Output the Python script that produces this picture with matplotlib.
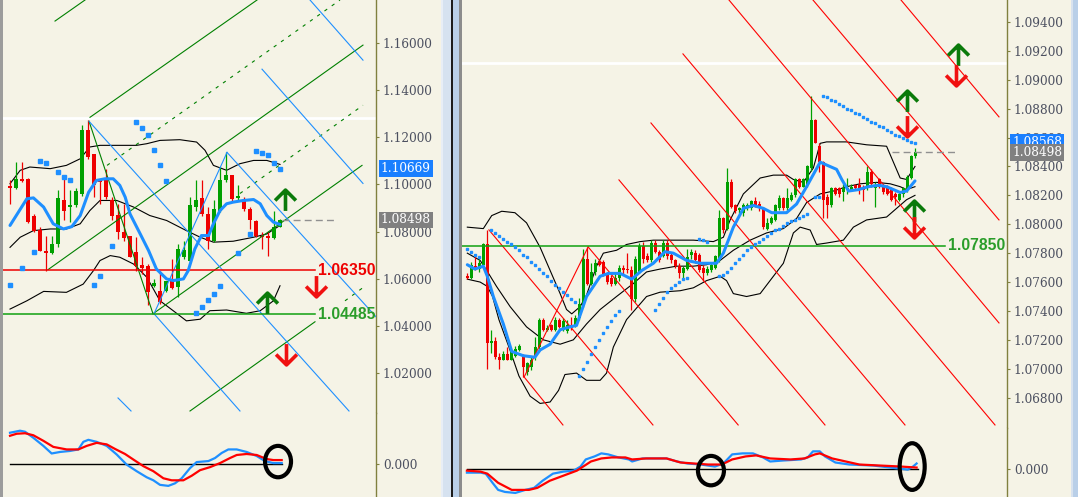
import numpy as np
import matplotlib
matplotlib.use("Agg")
import matplotlib.pyplot as plt
from matplotlib.path import Path
from matplotlib.patches import Ellipse, Rectangle
from matplotlib import transforms

# ---------------- left chart : candles ----------------
left_open = [1.0992, 1.0986, 1.1024, 1.1024, 1.0864, 1.0807, 1.0716, 1.0708, 1.0748, 1.0936,
             1.0904, 1.0911, 1.0960, 1.1233, 1.1128, 1.1017, 1.1017, 1.0932, 1.0871, 1.0797,
             1.0780, 1.0715, 1.0660, 1.0653, 1.0569, 1.0549, 1.0549, 1.0592, 1.0563, 1.0691,
             1.0677, 1.0904, 1.0943, 1.0875, 1.0762, 1.0889, 1.1017, 1.1038, 1.0943, 1.0932,
             1.0896, 1.0844, 1.0783, 1.0783, 1.0773, 1.0821]
left_high = [1.1017, 1.1095, 1.1095, 1.1026, 1.0875, 1.0818, 1.0783, 1.0783, 1.0975, 1.1038,
             1.0975, 1.0986, 1.1251, 1.1272, 1.1128, 1.1024, 1.1067, 1.0946, 1.0918, 1.0918,
             1.0783, 1.0776, 1.0691, 1.0662, 1.0599, 1.0634, 1.0592, 1.0684, 1.0748, 1.0762,
             1.0946, 1.1017, 1.1017, 1.0904, 1.0932, 1.1074, 1.1138, 1.1038, 1.0996, 1.0946,
             1.0904, 1.0847, 1.0797, 1.0797, 1.0889, 1.0854]
left_low = [1.0918, 1.0982, 1.1010, 1.0838, 1.0797, 1.0719, 1.0634, 1.0705, 1.0733, 1.0847,
            1.0840, 1.0904, 1.0953, 1.1109, 1.0946, 1.0918, 1.0939, 1.0847, 1.0769, 1.0762,
            1.0691, 1.0634, 1.0620, 1.0489, 1.0563, 1.0492, 1.0542, 1.0556, 1.0521, 1.0684,
            1.0670, 1.0889, 1.0868, 1.0726, 1.0755, 1.0882, 1.1010, 1.0925, 1.0932, 1.0889,
            1.0811, 1.0776, 1.0726, 1.0698, 1.0769, 1.0818]
left_close = [1.0986, 1.1024, 1.1014, 1.0840, 1.0801, 1.0719, 1.0708, 1.0748, 1.0942, 1.0889,
              1.0911, 1.0972, 1.1233, 1.1116, 1.0996, 1.1010, 1.0946, 1.0868, 1.0797, 1.0773,
              1.0694, 1.0655, 1.0645, 1.0542, 1.0583, 1.0499, 1.0592, 1.0560, 1.0726, 1.0722,
              1.0911, 1.0936, 1.0875, 1.0762, 1.0896, 1.1017, 1.1038, 1.0939, 1.0949, 1.0896,
              1.0847, 1.0783, 1.0779, 1.0773, 1.0821, 1.0850]

# bollinger bands / moving average (bar index, price)
left_bb_up_x = [0, 1.7, 3.3, 6.7, 9.4, 11.7, 13.3, 15, 17.8, 21.1, 22.8, 25, 28.3, 31.1, 32.5,
                33.9, 36.1, 38.3, 40.6, 42.8, 45]
left_bb_up = [1.1003, 1.1060, 1.1074, 1.1067, 1.1081, 1.1109, 1.1159, 1.1166, 1.1166, 1.1166,
              1.1173, 1.1187, 1.1190, 1.1180, 1.1145, 1.1081, 1.1060, 1.1088, 1.1102, 1.1102, 1.1085]
left_bb_mid_x = [0, 1.7, 3.9, 6.7, 9.4, 11.7, 13.3, 15, 17.8, 20.6, 23.3, 26.1, 29.4, 31.7, 33.9,
                 37.2, 40.6, 42.8, 45]
left_bb_mid = [1.0733, 1.0776, 1.0804, 1.0811, 1.0811, 1.0833, 1.0889, 1.0932, 1.0932, 1.0904,
               1.0868, 1.0847, 1.0804, 1.0776, 1.0755, 1.0759, 1.0776, 1.0790, 1.0826]
left_bb_lo_x = [0, 2.8, 5.6, 9.4, 12.2, 13.9, 15, 16.7, 18.3, 20.6, 22.8, 25, 27.2, 29.4, 31.7,
                33.3, 36.1, 39.4, 41.7, 43.9, 45]
left_bb_lo = [1.0471, 1.0506, 1.0546, 1.0542, 1.0577, 1.0634, 1.0677, 1.0698, 1.0691, 1.0662,
              1.0606, 1.0506, 1.0464, 1.0421, 1.0428, 1.0464, 1.0467, 1.0453, 1.0464, 1.0506, 1.0570]
left_ma_x = [0, 2.8, 3.9, 5.6, 7.2, 8.9, 10.3, 11.7, 13.1, 14.4, 15.8, 17.2, 18.3, 19.2, 20,
             21.7, 23.1, 24.4, 26.1, 27.2, 28.9, 29.7, 30.8, 31.9, 33.1, 33.9, 35, 36.1, 37.2,
             38.9, 40.6, 41.7, 42.8, 43.9, 45]
left_ma = [1.0826, 1.0939, 1.0943, 1.0904, 1.0833, 1.0811, 1.0821, 1.0868, 1.0967, 1.1017,
           1.1024, 1.1024, 1.0996, 1.0946, 1.0875, 1.0790, 1.0719, 1.0641, 1.0599, 1.0592,
           1.0599, 1.0634, 1.0726, 1.0783, 1.0783, 1.0833, 1.0889, 1.0918, 1.0925, 1.0932,
           1.0936, 1.0918, 1.0868, 1.0840, 1.0830]
left_sar_x = [0, 2, 4, 5, 6, 8, 9, 10, 14, 15, 17, 21, 22, 23, 24, 25, 26, 31, 32, 33, 34, 35,
              38, 40, 41, 42, 43, 44, 45]
left_sar = [1.0573, 1.0644, 1.0712, 1.1099, 1.1091, 1.1053, 1.1031, 1.1020, 1.0573, 1.0613,
            1.0740, 1.1265, 1.1241, 1.1208, 1.1148, 1.1081, 1.1014, 1.0455, 1.0478, 1.0509,
            1.0537, 1.0570, 1.0708, 1.0790, 1.1142, 1.1133, 1.1123, 1.1091, 1.1067]

# oscillator (left)
left_osc_blue_x = [0, 1.67, 2.5, 3.89, 5.56, 6.94, 8.33, 10, 11.39, 12.22, 13.06, 14.44, 16.11,
                   17.78, 19.44, 21.11, 22.78, 23.89, 25, 26.39, 27.5, 28.61, 30, 31.11, 33.06,
                   34.17, 35.28, 36.39, 37.78, 39.44, 41.11, 42.5, 43.89, 45.28]
left_osc_blue = [0.0061, 0.0065, 0.0063, 0.0051, 0.0035, 0.0020, 0.0023, 0.0025, 0.0028, 0.0043,
                 0.0047, 0.0043, 0.0035, 0.0018, -0.0002, -0.0015, -0.0027, -0.0033, -0.0042,
                 -0.0044, -0.0039, -0.0029, -0.0009, 0.0003, 0.0005, 0.0011, 0.0021, 0.0028,
                 0.0028, 0.0023, 0.0015, 0.0005, 0.0001, 0.0001]
left_osc_red_x = [0, 1.11, 2.5, 3.89, 5.56, 7.22, 9.44, 11.39, 12.78, 14.44, 16.11, 17.5, 19.17,
                  20.56, 22.22, 23.89, 25.56, 26.94, 28.89, 30.28, 31.67, 33.33, 35, 36.67,
                  37.78, 39.44, 41.11, 42.78, 43.89, 45.28]
left_osc_red = [0.0055, 0.0059, 0.0060, 0.0056, 0.0045, 0.0033, 0.0028, 0.0028, 0.0035, 0.0041,
                0.0038, 0.0029, 0.0019, 0.0008, -0.0005, -0.0015, -0.0029, -0.0033, -0.0033,
                -0.0024, -0.0013, -0.0007, 0.0001, 0.0011, 0.0017, 0.0019, 0.0017, 0.0009,
                0.0007, 0.0007]

# drawn objects (x0, y0, x1, y1) in bar index / price
left_green_lines = [(6.33, 1.06383, 58.83, 1.15915), (23.83, 1.04511, 58.67, 1.10809),
                    (13.33, 1.12851, 41.17, 1.17830), (7.5, 1.16936, 12.5, 1.17830),
                    (30.0, 1.00383, 50.83, 1.04170), (13.17, 1.12681, 23.83, 1.04511)]
left_green_dashed = [(16.17, 1.10809, 55.0, 1.17830), (38.33, 1.09617, 58.83, 1.13362),
                     (55.83, 1.0506, 58.83, 1.0562)]
left_blue_lines = [(13.17, 1.12681, 56.5, 1.00383), (24.0, 1.04511, 38.33, 1.00383),
                   (36.17, 1.11362, 61.0, 1.04383), (42.0, 1.14894, 58.83, 1.10043),
                   (50.0, 1.17830, 58.83, 1.15277), (18.0, 1.00936, 20.17, 1.00383),
                   (24.0, 1.04511, 36.17, 1.11362)]
left_levels = [1.06350, 1.04485]
left_up_arrows = [(45.8, 1.0932), (42.8, 1.0498)]
left_down_arrows = [(51.0, 1.0570), (46.0, 1.0281)]

# ---------------- right chart : candles ----------------
right_open = [1.0764, 1.0763, 1.0771, 1.0769, 1.0772, 1.0786, 1.0718, 1.0719, 1.0708, 1.0706,
              1.0710, 1.0706, 1.0709, 1.0713, 1.0709, 1.0698, 1.0701, 1.0708, 1.0715, 1.0734,
              1.0727, 1.0730, 1.0727, 1.0734, 1.0727, 1.0726, 1.0730, 1.0730, 1.0735, 1.0744,
              1.0776, 1.0759, 1.0767, 1.0774, 1.0774, 1.0765, 1.0763, 1.0759, 1.0763, 1.0770,
              1.0769, 1.0768, 1.0748, 1.0767, 1.0785, 1.0778, 1.0775, 1.0787, 1.0781, 1.0778,
              1.0787, 1.0779, 1.0775, 1.0771, 1.0766, 1.0769, 1.0779, 1.0780, 1.0779, 1.0770,
              1.0766, 1.0768, 1.0770, 1.0775, 1.0804, 1.0797, 1.0829, 1.0813, 1.0810, 1.0808,
              1.0811, 1.0811, 1.0816, 1.0814, 1.0811, 1.0797, 1.0801, 1.0803, 1.0811, 1.0818,
              1.0811, 1.0817, 1.0820, 1.0831, 1.0826, 1.0827, 1.0839, 1.0872, 1.0854, 1.0843,
              1.0819, 1.0813, 1.0825, 1.0825, 1.0822, 1.0824, 1.0824, 1.0827, 1.0827, 1.0826,
              1.0825, 1.0836, 1.0825, 1.0831, 1.0827, 1.0826, 1.0825, 1.0821, 1.0817, 1.0821,
              1.0824, 1.0832, 1.0847]
right_high = [1.0766, 1.0774, 1.0779, 1.0776, 1.0787, 1.0796, 1.0727, 1.0722, 1.0711, 1.0712,
              1.0715, 1.0714, 1.0716, 1.0717, 1.0710, 1.0705, 1.0708, 1.0722, 1.0735, 1.0735,
              1.0730, 1.0731, 1.0736, 1.0735, 1.0735, 1.0734, 1.0736, 1.0737, 1.0749, 1.0783,
              1.0784, 1.0773, 1.0776, 1.0775, 1.0775, 1.0767, 1.0765, 1.0766, 1.0772, 1.0772,
              1.0780, 1.0771, 1.0778, 1.0787, 1.0788, 1.0780, 1.0789, 1.0789, 1.0782, 1.0789,
              1.0789, 1.0780, 1.0776, 1.0773, 1.0771, 1.0783, 1.0783, 1.0782, 1.0780, 1.0772,
              1.0771, 1.0773, 1.0779, 1.0810, 1.0805, 1.0839, 1.0831, 1.0814, 1.0812, 1.0815,
              1.0815, 1.0817, 1.0819, 1.0816, 1.0812, 1.0804, 1.0806, 1.0814, 1.0820, 1.0819,
              1.0825, 1.0822, 1.0832, 1.0832, 1.0832, 1.0841, 1.0889, 1.0873, 1.0856, 1.0844,
              1.0821, 1.0826, 1.0826, 1.0826, 1.0828, 1.0832, 1.0828, 1.0828, 1.0832, 1.0827,
              1.0840, 1.0838, 1.0829, 1.0832, 1.0828, 1.0827, 1.0826, 1.0822, 1.0822, 1.0826,
              1.0834, 1.0848, 1.0853]
right_low = [1.0762, 1.0762, 1.0768, 1.0767, 1.0771, 1.0700, 1.0711, 1.0707, 1.0700, 1.0706,
             1.0706, 1.0706, 1.0708, 1.0712, 1.0694, 1.0696, 1.0699, 1.0706, 1.0714, 1.0726,
             1.0726, 1.0726, 1.0726, 1.0728, 1.0726, 1.0725, 1.0727, 1.0729, 1.0734, 1.0743,
             1.0758, 1.0758, 1.0765, 1.0771, 1.0764, 1.0759, 1.0757, 1.0758, 1.0761, 1.0765,
             1.0766, 1.0741, 1.0746, 1.0766, 1.0773, 1.0774, 1.0774, 1.0780, 1.0774, 1.0777,
             1.0776, 1.0773, 1.0770, 1.0763, 1.0763, 1.0768, 1.0776, 1.0773, 1.0767, 1.0761,
             1.0765, 1.0767, 1.0769, 1.0774, 1.0794, 1.0796, 1.0811, 1.0808, 1.0808, 1.0806,
             1.0810, 1.0810, 1.0812, 1.0809, 1.0797, 1.0796, 1.0800, 1.0802, 1.0810, 1.0810,
             1.0810, 1.0816, 1.0819, 1.0825, 1.0826, 1.0826, 1.0837, 1.0856, 1.0836, 1.0804,
             1.0804, 1.0812, 1.0820, 1.0819, 1.0816, 1.0821, 1.0823, 1.0824, 1.0821, 1.0816,
             1.0824, 1.0826, 1.0812, 1.0825, 1.0821, 1.0820, 1.0816, 1.0813, 1.0816, 1.0819,
             1.0822, 1.0831, 1.0846]
right_close = [1.0763, 1.0772, 1.0769, 1.0773, 1.0786, 1.0718, 1.0719, 1.0708, 1.0706, 1.0710,
               1.0706, 1.0712, 1.0714, 1.0716, 1.0701, 1.0704, 1.0706, 1.0715, 1.0734, 1.0727,
               1.0728, 1.0727, 1.0734, 1.0729, 1.0733, 1.0730, 1.0728, 1.0735, 1.0745, 1.0776,
               1.0759, 1.0767, 1.0773, 1.0772, 1.0765, 1.0760, 1.0759, 1.0763, 1.0770, 1.0768,
               1.0768, 1.0748, 1.0776, 1.0785, 1.0776, 1.0775, 1.0787, 1.0781, 1.0775, 1.0787,
               1.0778, 1.0775, 1.0771, 1.0766, 1.0770, 1.0777, 1.0781, 1.0775, 1.0768, 1.0766,
               1.0769, 1.0772, 1.0778, 1.0804, 1.0796, 1.0829, 1.0812, 1.0809, 1.0811, 1.0813,
               1.0813, 1.0816, 1.0813, 1.0811, 1.0798, 1.0801, 1.0804, 1.0813, 1.0818, 1.0811,
               1.0818, 1.0820, 1.0831, 1.0826, 1.0831, 1.0840, 1.0872, 1.0856, 1.0843, 1.0817,
               1.0813, 1.0825, 1.0821, 1.0821, 1.0825, 1.0825, 1.0826, 1.0825, 1.0824, 1.0824,
               1.0836, 1.0828, 1.0827, 1.0826, 1.0822, 1.0821, 1.0817, 1.0819, 1.0821, 1.0825,
               1.0833, 1.0847, 1.0850]

right_bb_up_x = [0, 4.0, 6.1, 8.6, 11.9, 14.8, 18.2, 20.7, 23.2, 24.8, 26.1, 28.2, 29.8, 32.3,
                 34.0, 37.3, 39.8, 43.2, 46.5, 51.5, 56.5, 61.5, 64.0, 65.7, 69.0, 73.2, 76.5,
                 79.8, 81.5, 84.0, 86.5, 88.2, 89.8, 94.8, 99.8, 104.8, 106.5, 108.2, 109.8, 111.9]
right_bb_up = [1.0798, 1.0797, 1.0806, 1.0809, 1.0808, 1.0801, 1.0784, 1.0768, 1.0752, 1.0741,
               1.0738, 1.0743, 1.0751, 1.0771, 1.0780, 1.0782, 1.0786, 1.0788, 1.0789, 1.0789,
               1.0789, 1.0788, 1.0791, 1.0803, 1.0821, 1.0832, 1.0834, 1.0834, 1.0831, 1.0829,
               1.0839, 1.0856, 1.0857, 1.0857, 1.0855, 1.0854, 1.0843, 1.0832, 1.0831, 1.0840]
right_bb_mid_x = [0, 3.2, 5.3, 7.3, 10.7, 14.8, 19.0, 23.2, 26.5, 29.8, 33.2, 37.3, 41.5, 44.8,
                  48.2, 52.3, 56.5, 59.8, 63.2, 66.5, 70.7, 74.8, 79.0, 82.3, 84.8, 88.2, 91.5,
                  94.8, 98.2, 102.3, 105.7, 108.2, 109.8, 111.9]
right_bb_mid = [1.0780, 1.0775, 1.0766, 1.0757, 1.0743, 1.0729, 1.0720, 1.0717, 1.0720, 1.0731,
                1.0741, 1.0750, 1.0759, 1.0767, 1.0769, 1.0771, 1.0771, 1.0772, 1.0775, 1.0782,
                1.0789, 1.0794, 1.0797, 1.0804, 1.0815, 1.0821, 1.0823, 1.0826, 1.0828, 1.0829,
                1.0828, 1.0826, 1.0824, 1.0826]
right_bb_lo_x = [0, 3.2, 5.0, 6.3, 7.9, 10.4, 12.9, 15.7, 18.2, 20.7, 22.8, 24.4, 27.3, 29.8,
                 33.2, 34.8, 36.5, 39.8, 44.8, 48.2, 53.2, 56.5, 59.8, 63.2, 64.8, 66.5, 69.8,
                 73.2, 76.5, 79.0, 81.5, 83.2, 85.7, 87.3, 89.8, 94.0, 96.5, 99.8, 104.8, 107.3,
                 109.8, 111.9]
right_bb_lo = [1.0762, 1.0760, 1.0757, 1.0750, 1.0734, 1.0715, 1.0695, 1.0681, 1.0676, 1.0677,
               1.0685, 1.0696, 1.0697, 1.0692, 1.0692, 1.0697, 1.0715, 1.0734, 1.0750, 1.0753,
               1.0754, 1.0756, 1.0761, 1.0764, 1.0761, 1.0752, 1.0750, 1.0752, 1.0764, 1.0773,
               1.0794, 1.0798, 1.0796, 1.0786, 1.0787, 1.0789, 1.0798, 1.0803, 1.0805, 1.0811,
               1.0817, 1.0820]
right_ma_x = [0, 1.9, 4.0, 5.0, 6.5, 9.0, 11.1, 14.0, 16.9, 18.2, 20.7, 23.2, 25.7, 27.3, 29.8,
              33.2, 35.3, 38.2, 41.1, 43.6, 46.5, 49.4, 51.5, 54.8, 58.2, 62.3, 64.0, 66.5, 69.0,
              71.5, 74.0, 76.1, 79.8, 82.3, 84.8, 88.2, 89.8, 92.3, 93.6, 95.3, 97.8, 100.2,
              102.8, 104.8, 106.5, 108.2, 109.8, 111.9]
right_ma = [1.0772, 1.0769, 1.0771, 1.0764, 1.0750, 1.0731, 1.0712, 1.0709, 1.0708, 1.0713,
            1.0717, 1.0727, 1.0729, 1.0730, 1.0750, 1.0764, 1.0766, 1.0766, 1.0762, 1.0768,
            1.0773, 1.0781, 1.0780, 1.0775, 1.0773, 1.0773, 1.0780, 1.0798, 1.0811, 1.0813,
            1.0811, 1.0808, 1.0808, 1.0814, 1.0826, 1.0843, 1.0841, 1.0838, 1.0831, 1.0823,
            1.0824, 1.0826, 1.0827, 1.0826, 1.0824, 1.0822, 1.0823, 1.0830]
# parabolic dots: (first bar, values)
right_sar_runs = [
    (0, [1.0783, 1.0781, 1.0779, 1.0777]),
    (6, [1.0796, 1.0794, 1.0792, 1.0790, 1.0788, 1.0786, 1.0784, 1.0782, 1.0779, 1.0777, 1.0774,
         1.0772, 1.0769, 1.0766, 1.0764, 1.0761, 1.0758, 1.0756, 1.0753, 1.0751, 1.0748, 1.0746]),
    (28, [1.0695, 1.0700, 1.0705, 1.0710, 1.0715, 1.0720, 1.0725, 1.0729, 1.0733, 1.0737, 1.0740]),
    (47, [1.0741, 1.0745, 1.0749, 1.0753, 1.0756, 1.0758, 1.0760, 1.0762, 1.0763]),
    (58, [1.0790, 1.0789, 1.0788]),
    (63, [1.0764, 1.0765, 1.0767, 1.0770, 1.0773, 1.0776, 1.0779, 1.0782, 1.0784, 1.0786, 1.0788,
          1.0790, 1.0792, 1.0794, 1.0796, 1.0797, 1.0799, 1.0801, 1.0802, 1.0803, 1.0804, 1.0806,
          1.0807]),
    (87, [1.0819, 1.0819]),
    (89, [1.0889, 1.0888, 1.0886, 1.0885, 1.0883, 1.0882, 1.0880, 1.0879, 1.0877, 1.0876, 1.0874,
          1.0873, 1.0871, 1.0870, 1.0868, 1.0867, 1.0865, 1.0864, 1.0862, 1.0861, 1.0860, 1.0858,
          1.0857, 1.0856]),
]

right_osc_blue_x = [-0.1, 3.3, 4.6, 6.3, 7.7, 9.4, 12.0, 14.5, 16.7, 18.8, 21.4, 24.0, 26.6, 28.3,
                    29.6, 31.8, 33.5, 35.2, 37.8, 40.4, 41.2, 43.8, 46.4, 49.8, 52.4, 55.0, 58.4,
                    61.9, 64.0, 66.2, 68.8, 71.4, 73.9, 75.7, 79.1, 83.4, 85.1, 86.4, 88.1, 89.4,
                    92.0, 95.5, 101.5, 105.8, 110.1, 111.4, 112.3]
right_osc_blue = [-0.0004, -0.0004, -0.0005, -0.0014, -0.0021, -0.0023, -0.0024, -0.0021, -0.0019,
                  -0.0012, -0.0005, -0.0003, -0.0002, 0.0002, 0.0009, 0.0012, 0.0015, 0.0014,
                  0.0011, 0.0009, 0.0007, 0.0010, 0.0010, 0.0010, 0.0007, 0.0005, 0.0004, 0.0002,
                  0.0005, 0.0014, 0.0015, 0.0015, 0.0011, 0.0007, 0.0008, 0.0009, 0.0011, 0.0017,
                  0.0017, 0.0012, 0.0006, 0.0004, 0.0003, 0.0001, -0.0001, 0.0002, 0.0005]
right_osc_red_x = [-0.1, 3.3, 5.0, 7.7, 11.1, 15.4, 17.5, 20.6, 24.0, 27.4, 30.9, 33.5, 36.1, 39.5,
                   41.2, 44.7, 49.8, 53.3, 56.7, 60.2, 63.6, 66.2, 69.6, 72.2, 75.7, 80.8, 84.3,
                   86.9, 88.1, 91.2, 94.6, 98.0, 103.2, 108.4, 112.3]
right_osc_red = [-0.0002, -0.0003, -0.0005, -0.0014, -0.0021, -0.0021, -0.0019, -0.0012, -0.0007,
                 -0.0002, 0.0007, 0.0010, 0.0011, 0.0011, 0.0009, 0.0010, 0.0010, 0.0006, 0.0005,
                 0.0004, 0.0004, 0.0009, 0.0012, 0.0013, 0.0010, 0.0009, 0.0010, 0.0014, 0.0015,
                 0.0010, 0.0007, 0.0004, 0.0003, 0.0002, 0.0001]

right_red_lines = [(14.2, 1.06943, 23.9, 1.06611), (5.4, 1.07961, 46.4, 1.06611),
                   (30.2, 1.07843, 67.7, 1.06611), (37.9, 1.08307, 89.4, 1.06611),
                   (45.9, 1.08701, 109.4, 1.06611), (53.9, 1.09179, 131.9, 1.06611),
                   (65.4, 1.09552, 132.9, 1.07317), (86.4, 1.09552, 132.9, 1.08030),
                   (108.4, 1.09552, 132.9, 1.08743), (14.2, 1.06943, 30.2, 1.07843)]
right_level = 1.07850
right_up_arrows = [(122.7, 1.0917), (109.9, 1.0885), (111.7, 1.0809)]
right_down_arrows = [(122.2, 1.0903), (109.9, 1.0868), (111.7, 1.0798)]

last_price = 1.08498
left_bid_tag = 1.10669
right_bid_tag = 1.08568

# ---------------- style ----------------
W, H = 1078, 497
BG = "#f5f3e6"
OLIVE = "#80803f"
TXT = "#4c5060"
GREEN = "#00a000"
RED = "#ee0000"
BLUE = "#1e8fff"
LGREEN = "#008000"
plt.rcParams["font.family"] = ["DejaVu Serif"]

fig = plt.figure(figsize=(W / 100, H / 100), dpi=100, facecolor=BG)


def pane(x0, y0, x1, y1):
    ax = fig.add_axes([x0 / W, 1 - y1 / H, (x1 - x0) / W, (y1 - y0) / H])
    ax.set_facecolor(BG)
    for s in ("left", "top", "bottom"):
        ax.spines[s].set_visible(False)
    ax.spines["right"].set_color(OLIVE)
    ax.spines["right"].set_linewidth(1.0)
    ax.set_xticks([])
    ax.yaxis.tick_right()
    ax.tick_params(axis="y", direction="out", length=2.5, width=0.8, color=OLIVE,
                   pad=2.4, labelsize=8.7, labelcolor=TXT)
    return ax


def candles(ax, o, h, l, c, width, minh):
    o, h, l, c = map(np.asarray, (o, h, l, c))
    x = np.arange(len(o))
    col = np.where(c >= o, GREEN, RED)
    ax.vlines(x, l, h, colors=col, lw=0.9, zorder=3)
    ax.bar(x, np.maximum(np.abs(c - o), minh), bottom=np.minimum(o, c), width=width,
           color=col, lw=0, zorder=4)


def segs(ax, lines, color, **kw):
    for x0, y0, x1, y1 in lines:
        ax.plot([x0, x1], [y0, y1], color=color, lw=0.8, zorder=5, **kw)


UP = Path([(-1, 0), (0, 1), (1, 0), (0, 1), (0, -1)],
          [Path.MOVETO, Path.LINETO, Path.LINETO, Path.MOVETO, Path.LINETO])
DOWN = Path([(-1, 0), (0, -1), (1, 0), (0, -1), (0, 1)],
            [Path.MOVETO, Path.LINETO, Path.LINETO, Path.MOVETO, Path.LINETO])


def arrows(ax, pts, path, color):
    xs, ys = zip(*pts)
    ax.plot(xs, ys, ls="none", marker=path, ms=15, mew=2.6, mec=color, mfc="none",
            zorder=9, clip_on=False)


def tag(ax, y, text, fc):
    tr = transforms.offset_copy(ax.get_yaxis_transform(), fig=fig, x=5, y=0, units="dots")
    ax.text(1, y, text, transform=tr, ha="left", va="center", color="white", fontsize=8.7,
            bbox=dict(boxstyle="square,pad=0.15", fc=fc, ec="none"), clip_on=False, zorder=20)


# ---------------- left chart ----------------
axL = pane(3, 0, 376, 413)
axL.set_xlim(-1.17, 61.0)
axL.set_ylim(1.00298, 1.17830)
ticksL = [1.02, 1.04, 1.06, 1.08, 1.10, 1.12, 1.14, 1.16]
axL.set_yticks(ticksL)
axL.set_yticklabels(["%.5f" % t for t in ticksL])

axL.axhline(1.1281, color="white", lw=2, zorder=1)
axL.plot(left_bb_up_x, left_bb_up, color="black", lw=0.8, zorder=2)
axL.plot(left_bb_mid_x, left_bb_mid, color="black", lw=0.8, zorder=2)
axL.plot(left_bb_lo_x, left_bb_lo, color="black", lw=0.8, zorder=2)
candles(axL, left_open, left_high, left_low, left_close, 0.68, 0.0004)
segs(axL, left_green_lines, LGREEN)
segs(axL, left_green_dashed, LGREEN, dashes=(3, 5))
segs(axL, left_blue_lines, BLUE)
axL.plot(left_ma_x, left_ma, color=BLUE, lw=2.2, zorder=6, solid_capstyle="round")
axL.plot(left_sar_x, left_sar, ls="none", marker="s", ms=2.2, color=BLUE, zorder=6)
for lev, col in zip(left_levels, [RED, "#10a010"]):
    axL.plot([-1.17, 50.8], [lev, lev], color=col, lw=1.1, zorder=5)
axL.text(51.3, left_levels[0], "%.5f" % left_levels[0], color=RED, fontsize=11.3,
         fontweight="bold", family="Liberation Sans", ha="left", va="center", zorder=8)
axL.text(51.3, left_levels[1], "%.5f" % left_levels[1], color="#2a9d2a", fontsize=11.3,
         fontweight="bold", family="Liberation Sans", ha="left", va="center", zorder=8)
axL.plot([45.3, 54.5], [last_price, last_price], color="#909090", lw=1.0, dashes=(5, 3), zorder=5)
arrows(axL, left_up_arrows, UP, "#0a7a0a")
arrows(axL, left_down_arrows, DOWN, "#f01010")
tag(axL, left_bid_tag, "%.5f" % left_bid_tag, "#1a7fff")
tag(axL, last_price, "%.5f" % last_price, "#808080")

axLi = pane(3, 413, 376, 497)
axLi.set_xlim(-1.17, 61.0)
axLi.set_ylim(-0.0066, 0.0100)
axLi.set_yticks([0])
axLi.set_yticklabels(["0.000"])
axLi.plot([0, 45.3], [0, 0], color="black", lw=1.0)
axLi.plot(left_osc_blue_x, left_osc_blue, color=BLUE, lw=1.6)
axLi.plot(left_osc_red_x, left_osc_red, color="red", lw=1.6)
axLi.add_patch(Ellipse((44.67, 0.0004), 4.33, 0.0062, fill=False, ec="black", lw=3, zorder=7))

# ---------------- right chart ----------------
axR = pane(462, 0, 1007, 428)
axR.set_xlim(-1.33, 134.9)
axR.set_ylim(1.06590, 1.09552)
ticksR = [1.068, 1.070, 1.072, 1.074, 1.076, 1.078, 1.080, 1.082, 1.084, 1.086, 1.088,
          1.090, 1.092, 1.094]
axR.set_yticks(ticksR)
axR.set_yticklabels(["%.5f" % t for t in ticksR])

axR.axhline(1.09116, color="white", lw=2, zorder=1)
axR.plot(right_bb_up_x, right_bb_up, color="black", lw=0.8, zorder=2)
axR.plot(right_bb_mid_x, right_bb_mid, color="black", lw=0.8, zorder=2)
axR.plot(right_bb_lo_x, right_bb_lo, color="black", lw=0.8, zorder=2)
segs(axR, right_red_lines, "red")
candles(axR, right_open, right_high, right_low, right_close, 0.72, 0.00007)
axR.plot(right_ma_x, right_ma, color=BLUE, lw=2.2, zorder=6, solid_capstyle="round")
for start, vals in right_sar_runs:
    axR.plot(start + np.arange(len(vals)), vals, ls="none", marker="s", ms=2.0, color=BLUE, zorder=6)
axR.plot([-1.33, 119.4], [right_level, right_level], color="#10a010", lw=1.1, zorder=5)
axR.text(120.2, right_level, "%.5f" % right_level, color="#2a9d2a", fontsize=11.3,
         fontweight="bold", family="Liberation Sans", ha="left", va="center", zorder=8)
axR.plot([106.2, 122.4], [last_price, last_price], color="#909090", lw=1.0, dashes=(5, 3), zorder=5)
arrows(axR, right_up_arrows, UP, "#0a7a0a")
arrows(axR, right_down_arrows, DOWN, "#f01010")
tag(axR, right_bid_tag, "%.5f" % right_bid_tag, "#1a7fff")
tag(axR, last_price, "%.5f" % last_price, "#808080")

axRi = pane(462, 428, 1007, 497)
axRi.set_xlim(-1.33, 134.9)
axRi.set_ylim(-0.0028, 0.0040)
axRi.set_yticks([0])
axRi.set_yticklabels(["0.000"])
axRi.plot([-0.1, 112.7], [0, 0], color="black", lw=1.0)
axRi.plot(right_osc_blue_x, right_osc_blue, color=BLUE, lw=1.6)
axRi.plot(right_osc_red_x, right_osc_red, color="red", lw=1.6)
axRi.add_patch(Ellipse((60.9, -0.0002), 6.5, 0.0029, fill=False, ec="black", lw=3, zorder=7))
axRi.add_patch(Ellipse((111.2, 0.0002), 6.25, 0.0046, fill=False, ec="black", lw=3, zorder=7,
                       clip_on=False))

# ---------------- window frames ----------------
def band(x0, x1, color):
    fig.add_artist(Rectangle((x0 / W, 0), (x1 - x0) / W, 1, transform=fig.transFigure,
                             fc=color, ec="none", zorder=30))


band(0, 3, "#9c9c9c")
band(441, 443, "#e8eef6")
band(443, 451, "#d6e2f0")
band(451, 453, "#1c1c1c")
band(453, 459, "#b9cfe8")
band(459, 462, "#8c8c8c")
band(1071, 1073, "#d8e2ee")
band(1073, 1078, "#b9cfe8")

fig.savefig("out.png", dpi=100, facecolor=BG)
